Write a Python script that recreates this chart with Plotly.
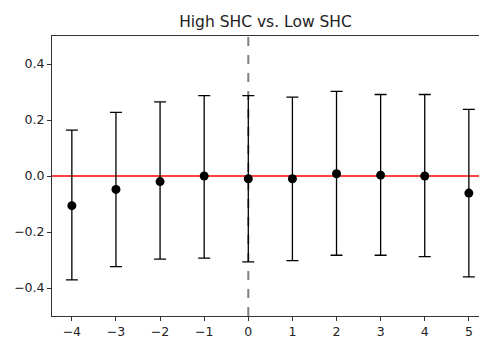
import plotly.graph_objects as go

x_vals = [-4, -3, -2, -1, 0, 1, 2, 3, 4, 5]
means = [-0.106, -0.048, -0.020, 0.000, -0.010, -0.010, 0.008, 0.003, 0.000, -0.061]
upper = [0.164, 0.227, 0.265, 0.287, 0.287, 0.282, 0.302, 0.291, 0.291, 0.238]
lower = [-0.371, -0.324, -0.297, -0.293, -0.307, -0.302, -0.283, -0.283, -0.288, -0.360]
x_ticks = [-4, -3, -2, -1, 0, 1, 2, 3, 4, 5]
y_ticks = [-0.4, -0.2, 0.0, 0.2, 0.4]
title_text = "High SHC vs. Low SHC"

err_plus = [u - m for u, m in zip(upper, means)]
err_minus = [m - l for m, l in zip(means, lower)]

fig = go.Figure()
fig.add_trace(go.Scatter(
    x=x_vals, y=means, mode="markers",
    marker=dict(color="black", size=9),
    error_y=dict(type="data", symmetric=False, array=err_plus, arrayminus=err_minus,
                 color="black", thickness=1.3, width=6),
    showlegend=False,
))

fig.add_shape(type="line", xref="paper", yref="y", x0=0, x1=1, y0=0, y1=0,
              line=dict(color="rgba(255,30,30,0.85)", width=2), layer="below")
fig.add_shape(type="line", xref="x", yref="paper", x0=0, x1=0, y0=0, y1=1,
              line=dict(color="gray", width=2, dash="dash"), layer="below")

axis_font = dict(family="DejaVu Sans", size=12.5, color="#222")
fig.update_layout(
    width=479, height=339,
    margin=dict(l=52, r=0, t=36, b=20),
    paper_bgcolor="white", plot_bgcolor="white",
    title=dict(text=title_text, x=(52 + 479) / 2 / 479, xanchor="center",
               y=1 - 22 / 339, yanchor="middle", yref="container",
               font=dict(family="DejaVu Sans", size=15.5, color="#222")),
    xaxis=dict(range=[-4.45, 5.23], tickvals=x_ticks, ticks="outside", ticklen=4,
               tickcolor="#333", showline=True, linecolor="#333", linewidth=1,
               mirror=True, showgrid=False, zeroline=False, tickfont=axis_font),
    yaxis=dict(range=[-0.5, 0.5], tickvals=y_ticks, tickformat=".1f", ticks="outside",
               ticklen=4, tickcolor="#333", showline=True, linecolor="#333", linewidth=1,
               showgrid=False, zeroline=False, tickfont=axis_font),
    font=dict(family="DejaVu Sans"),
)

fig.write_html("out.html")
